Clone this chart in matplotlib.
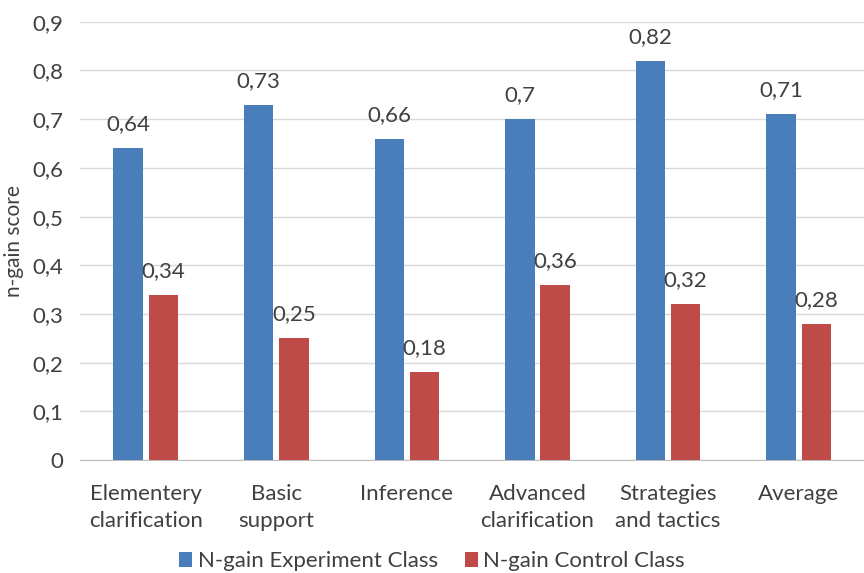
import numpy as np
import matplotlib.pyplot as plt

plt.rcParams['font.family'] = ['Lato', 'DejaVu Sans']

categories = ["Elementery\nclarification", "Basic\nsupport", "Inference",
              "Advanced\nclarification", "Strategies\nand tactics", "Average"]
experiment = [0.64, 0.73, 0.66, 0.70, 0.82, 0.71]
control = [0.34, 0.25, 0.18, 0.36, 0.32, 0.28]
series_names = ["N-gain Experiment Class", "N-gain Control Class"]

blue = "#4a7ebb"
red = "#be4b48"
txt = "#404040"

fig = plt.figure(figsize=(8.64, 5.73), dpi=100)
ax = fig.add_axes([0.093, 0.197, 0.907, 0.765])

x = np.arange(len(categories))
w = 0.225
gap = 0.045
b1 = ax.bar(x - (w + gap) / 2, experiment, w, color=blue, label=series_names[0], zorder=3)
b2 = ax.bar(x + (w + gap) / 2, control, w, color=red, label=series_names[1], zorder=3)

def fmt(v):
    return ("%g" % v).replace(".", ",")

for bars, vals in [(b1, experiment), (b2, control)]:
    for r, v in zip(bars, vals):
        ax.annotate(fmt(v), (r.get_x() + r.get_width() / 2, v), xytext=(0, 10),
                    textcoords="offset points", ha="center", va="bottom",
                    fontsize=16, color=txt)

ax.set_xlim(-0.5, len(categories) - 0.5)
ax.set_ylim(0, 0.9)
yt = np.arange(0, 0.91, 0.1)
ax.set_yticks(yt)
ax.set_yticklabels([fmt(round(t, 1)) for t in yt])
ax.set_xticks(x)
ax.set_xticklabels(categories, linespacing=1.45)
ax.tick_params(length=0, labelsize=16, colors=txt, pad=12)
ax.tick_params(axis='x', pad=17)
ax.grid(axis='y', color="#d9d9d9", linewidth=1, zorder=0)
for s in ["top", "right", "left"]:
    ax.spines[s].set_visible(False)
ax.spines["bottom"].set_color("#bfbfbf")
ax.set_ylabel("n-gain score", fontsize=15, color=txt, labelpad=6)

fig.legend(handles=[b1, b2], loc="lower center", bbox_to_anchor=(0.5, -0.032), ncol=2,
           frameon=False, fontsize=16, handlelength=0.6, handleheight=0.6,
           handletextpad=0.25, columnspacing=1.2, labelcolor=txt)

fig.savefig("out.png", dpi=100)
